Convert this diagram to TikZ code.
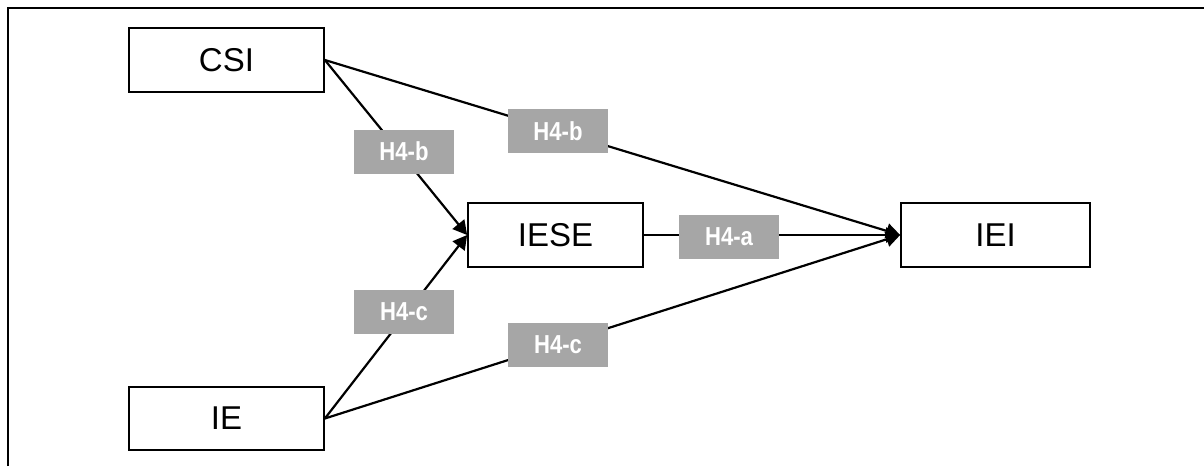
\documentclass[tikz,border=0pt]{standalone}
\usepackage{fontspec}
\setmainfont{Liberation Sans}
\usetikzlibrary{arrows.meta}
\definecolor{labgray}{RGB}{166,166,166}
\begin{document}
\begin{tikzpicture}[x=1pt,y=-1pt,
  varbox/.style={draw=black,line width=1.7pt,fill=white,minimum height=64pt,inner sep=0pt,font=\fontsize{33}{36}\selectfont},
  hyplab/.style={fill=labgray,minimum width=100pt,minimum height=44pt,inner sep=0pt,text=white,font=\fontsize{26}{28}\selectfont\bfseries},
  conn/.style={line width=2.2pt},
  arr/.style={conn,-{Triangle[length=14pt,width=15pt]}}]
\useasboundingbox (0,0) rectangle (1204,466);
\draw[line width=2pt] (8,466) -- (8,8) -- (1204,8);
\node[varbox,minimum width=195pt] (csi) at (226.5,60) {CSI};
\node[varbox,minimum width=195pt,minimum height=63pt] (ie) at (226.5,418.5) {IE};
\node[varbox,minimum width=175pt] (iese) at (555.5,235) {IESE};
\node[varbox,minimum width=189pt] (iei) at (995.5,235) {IEI};
\draw[arr] (csi.east) -- (iese.west);
\draw[arr] (ie.east) -- (iese.west);
\draw[arr] (csi.east) -- (iei.west);
\draw[arr] (ie.east) -- (iei.west);
\draw[arr] (iese.east) -- (iei.west);
\node[hyplab] (lb1) at (404,151.5) {\scalebox{0.85}[1]{H4-b}};
\node[hyplab] (lb2) at (558,131) {\scalebox{0.85}[1]{H4-b}};
\node[hyplab] (la) at (729,237) {\scalebox{0.85}[1]{H4-a}};
\node[hyplab] (lc1) at (404,311.5) {\scalebox{0.85}[1]{H4-c}};
\node[hyplab] (lc2) at (558,345) {\scalebox{0.85}[1]{H4-c}};
\end{tikzpicture}
\end{document}
